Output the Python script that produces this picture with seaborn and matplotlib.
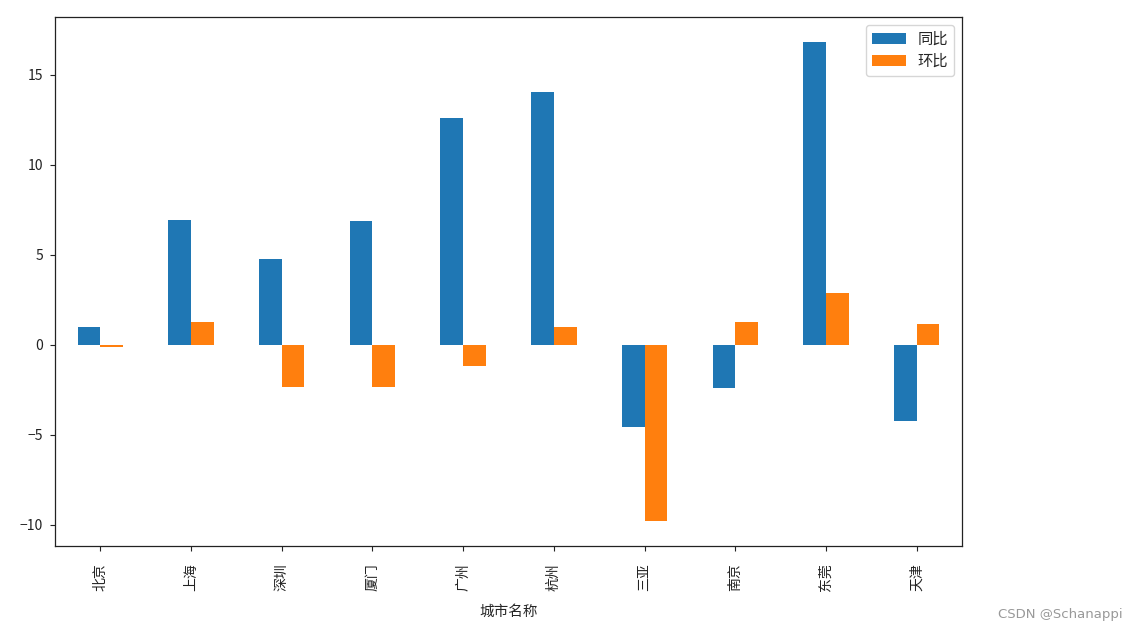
import matplotlib
matplotlib.use("Agg")
import matplotlib.pyplot as plt
import seaborn as sns
import pandas as pd

cities = ["北京", "上海", "深圳", "厦门", "广州", "杭州", "三亚", "南京", "东莞", "天津"]
yoy = [1.0, 6.95, 4.8, 6.88, 12.6, 14.05, -4.55, -2.4, 16.83, -4.2]
mom = [-0.1, 1.28, -2.33, -2.33, -1.17, 1.0, -9.78, 1.28, 2.9, 1.18]
series_names = ["同比", "环比"]

sns.set_theme(style="ticks")
plt.rcParams["font.family"] = ["Noto Sans CJK SC", "DejaVu Sans"]
plt.rcParams["axes.unicode_minus"] = True

df = pd.DataFrame({
    "城市名称": cities * 2,
    "value": yoy + mom,
    "指标": [series_names[0]] * len(cities) + [series_names[1]] * len(cities),
})

fig = plt.figure(figsize=(11.37, 6.31), dpi=100)
ax = fig.add_axes([0.0484, 0.1347, 0.7977, 0.8384])

sns.barplot(data=df, x="城市名称", y="value", hue="指标", order=cities,
            hue_order=series_names, palette=["#1f77b4", "#ff7f0e"],
            width=0.5, gap=0, ax=ax, errorbar=None, saturation=1,
            edgecolor="none", linewidth=0)

ax.set_xlim(-0.5, 9.5)
ax.set_ylim(-11.17, 18.22)
ax.set_yticks([-10, -5, 0, 5, 10, 15])
ax.set_ylabel("")
ax.tick_params(axis="x", labelrotation=90, labelsize=10, length=3.5, width=0.8,
               pad=9, colors="#222222")
ax.tick_params(axis="y", labelsize=10, length=3.5, width=0.8, pad=5,
               colors="#222222")
ax.set_xlabel("城市名称", fontsize=10.5, labelpad=10)
for s in ax.spines.values():
    s.set_visible(True)
    s.set_color("#222222")
    s.set_linewidth(0.9)

leg = ax.legend(loc="upper right", fontsize=11, title=None, frameon=True,
                fancybox=True, framealpha=0.8, edgecolor="#cccccc",
                handlelength=2.2, labelspacing=0.35)

fig.text(0.987, 0.026, "CSDN @Schanappi", ha="right", va="center",
         fontsize=9.5, color="#999999", family=["DejaVu Sans"])

fig.savefig("out.png", dpi=100, facecolor="white")
